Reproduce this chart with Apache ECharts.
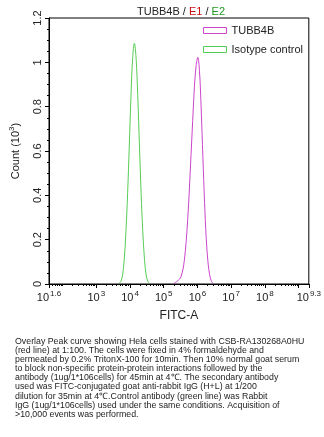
<!DOCTYPE html>
<html><head><meta charset="utf-8">
<script src="https://cdn.jsdelivr.net/npm/echarts@6/dist/echarts.min.js"></script>
<style>html,body{margin:0;padding:0;background:#fff}#c{width:324px;height:437px}</style>
</head><body><div id="c"></div>
<script>
// Data (x in log10 of FITC-A, y in Count 10^3)
const tubbX = [5.31,5.41,5.51,5.61,5.71,5.81,5.91,5.96,6.01,6.06,6.11,6.16,6.21,6.26,6.31,6.36,6.41,6.46];
const tubbY = [0.004,0.014,0.032,0.105,0.29,0.585,0.89,0.985,1.023,0.96,0.79,0.575,0.368,0.205,0.1,0.042,0.014,0.003];
const isoX = [3.68,3.73,3.78,3.83,3.88,3.93,3.98,4.03,4.08,4.13,4.18,4.23,4.28,4.33,4.38,4.43,4.48,4.53,4.58];
const isoY = [0.003,0.012,0.04,0.11,0.235,0.408,0.627,0.85,1.021,1.086,1.021,0.85,0.627,0.408,0.235,0.11,0.04,0.012,0.003];
const majorTicks = [1.6,3,4,5,6,7,8,9,9.3];
const xLabels = [1.6,3,4,5,6,7,8,9.3];
const yTicks = [0,0.2,0.4,0.6,0.8,1,1.2];
const captionLines = [
 "Overlay Peak curve showing Hela cells stained with CSB-RA130268A0HU",
 "(red line) at 1:100. The cells were fixed in 4% formaldehyde and",
 "permeated by 0.2% TritonX-100 for 10min. Then 10% normal goat serum",
 "to block non-specific protein-protein interactions followed by the",
 "antibody (1ug/1*106cells) for 45min at 4\u2103. The secondary antibody",
 "used was FITC-conjugated goat anti-rabbit IgG (H+L) at 1/200",
 "dilution for 35min at 4\u2103.Control antibody (green line) was Rabbit",
 "IgG (1ug/1*106cells) used under the same conditions. Acquisition of",
 ">10,000 events was performed."
];
const minorTicks = [];
for (let n = 1; n <= 9; n++) for (let k = (n===1?4:1); k <= 9; k++) {
  const v = Math.round((n + Math.log10(k)) * 10000) / 10000;
  if (v > 1.6 && v < 9.3 && majorTicks.indexOf(v) < 0) minorTicks.push(v);
}
const chart = echarts.init(document.getElementById('c'));
const font = 'Liberation Sans, Arial, sans-serif';
chart.setOption({
  animation: false,
  backgroundColor: '#fff',
  title: {
    text: '{k|TUBB4B / }{r|E1}{k| / }{g|E2}',
    left: 176, top: 1, textAlign: 'center',
    textStyle: { fontWeight: 'normal', rich: {
      k: {fontFamily: font, fontSize: 11, fontWeight: 'normal', color: '#222'},
      r: {fontFamily: font, fontSize: 11, fontWeight: 'normal', color: '#cc1111'},
      g: {fontFamily: font, fontSize: 11, fontWeight: 'normal', color: '#229922'}
    }}
  },
  legend: {
    right: 16, top: 20, orient: 'vertical', itemGap: 8,
    itemWidth: 23, itemHeight: 6,
    textStyle: {fontFamily: font, fontSize: 11, color: '#222', padding: [0,0,0,0]},
    data: [
      {name: 'TUBB4B', icon: 'rect', itemStyle: {color: 'transparent', borderColor: '#cc44cc', borderWidth: 1}},
      {name: 'Isotype control', icon: 'rect', itemStyle: {color: 'transparent', borderColor: '#55cc55', borderWidth: 1}}
    ]
  },
  grid: {left: 43, right: 14, top: 18, bottom: 153, show: true, borderColor: '#000', borderWidth: 1, backgroundColor: 'transparent'},
  xAxis: [{
    type: 'value', min: 1.6, max: 9.3, gridIndex: 0,
    name: 'FITC-A', nameLocation: 'middle', nameGap: 26,
    nameTextStyle: {fontFamily: font, fontSize: 12, color: '#222'},
    axisLine: {show: true, lineStyle: {color: '#000', width: 1}},
    axisTick: {show: true, inside: false, length: 4, customValues: majorTicks, lineStyle: {color: '#000'}},
    axisLabel: {
      customValues: xLabels, margin: 6, hideOverlap: false,
      formatter: v => '{b|10}{s|' + (Number.isInteger(v) ? v : v.toFixed(1)) + '}',
      rich: {
        b: {fontFamily: font, fontSize: 11, color: '#222'},
        s: {fontFamily: font, fontSize: 8, color: '#222', padding: [0,0,7,1]}
      }
    },
    splitLine: {show: false}
  }, {
    type: 'value', min: 1.6, max: 9.3, gridIndex: 0, position: 'bottom',
    axisLine: {show: false},
    axisTick: {show: true, inside: false, length: 2, customValues: minorTicks, lineStyle: {color: '#000'}},
    axisLabel: {show: false},
    splitLine: {show: false}
  }],
  yAxis: {
    type: 'value', min: 0, max: 1.2, interval: 0.2,
    name: 'Count {s|(10}{t|3}{s|)}', nameLocation: 'middle', nameGap: 26, nameRotate: 90,
    nameTextStyle: {fontFamily: font, fontSize: 11, color: '#222', rich: {
      s: {fontFamily: font, fontSize: 11, color: '#222'},
      t: {fontFamily: font, fontSize: 8, color: '#222', padding: [0,0,7,0]}
    }},
    axisLine: {show: true, lineStyle: {color: '#000', width: 1}},
    axisTick: {show: true, inside: false, length: 4, lineStyle: {color: '#000'}},
    minorTick: {show: true, splitNumber: 4, length: 2, lineStyle: {color: '#000'}},
    axisLabel: {rotate: 90, margin: 6, fontFamily: font, fontSize: 11, color: '#222',
      customValues: yTicks, formatter: v => String(v)},
    splitLine: {show: false}
  },
  series: [
    {name: 'TUBB4B', type: 'line', xAxisIndex: 0, smooth: 0.35, showSymbol: false,
     lineStyle: {color: '#cc44cc', width: 1}, itemStyle: {color: '#cc44cc'},
     data: tubbX.map((x, i) => [x, tubbY[i]])},
    {name: 'Isotype control', type: 'line', xAxisIndex: 0, smooth: 0.35, showSymbol: false,
     lineStyle: {color: '#55cc55', width: 1}, itemStyle: {color: '#55cc55'},
     data: isoX.map((x, i) => [x, isoY[i]])}
  ],
  graphic: captionLines.map((t, i) => ({
    type: 'text', left: 15, top: 337 + i * 9.1,
    style: {text: t, font: '8.8px ' + font, fill: '#222'}
  }))
});
</script></body></html>
